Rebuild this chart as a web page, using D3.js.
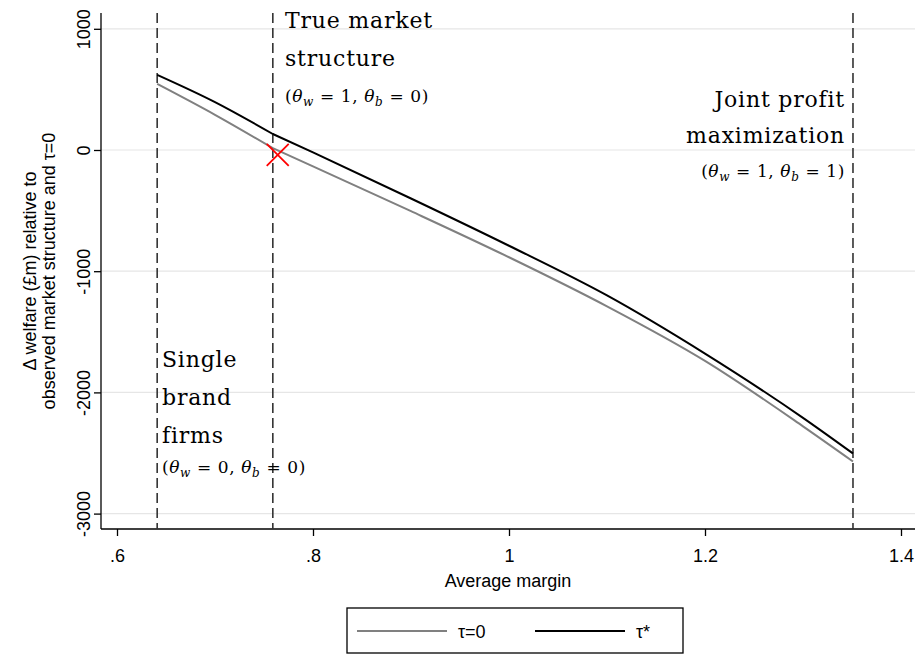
<!DOCTYPE html>
<html><head><meta charset="utf-8">
<script src="https://cdn.jsdelivr.net/npm/d3@7"></script>
<style>body{margin:0;background:#fff}</style></head>
<body><svg id="c" width="920" height="654"></svg>
<script>
const xsLeft = [0.641,0.7,0.759];
const starLeft = [620,395,132];
const zeroLeft = [545,290,15];
const xsRight = [0.759,0.8,0.9,1.0,1.1,1.2,1.3,1.351];
const starRight = [132,-20,-400,-790,-1200,-1680,-2210,-2504];
const zeroRight = [15,-135,-505,-885,-1290,-1740,-2280,-2570];
const xTicks = [0.6,0.8,1,1.2,1.4];
const xTickLabels = [".6",".8","1","1.2","1.4"];
const yTicks = [1000,0,-1000,-2000,-3000];
const vlines = [0.641,0.759,1.351];
const marker = {x:0.764,y:-40};

const svg = d3.select("#c");
const x = d3.scaleLinear().domain([0.6,1.4]).range([117,901]);
const y = d3.scaleLinear().domain([0,-1000]).range([150,271.2]);
const L=101,R=915,T=13,B=529;
const sans="Liberation Sans, Arial, sans-serif";
yTicks.forEach(t=>svg.append("line").attr("x1",L).attr("x2",R).attr("y1",y(t)).attr("y2",y(t)).attr("stroke","#e6e6e6").attr("stroke-width",1.2));
const xa = svg.append("g").attr("transform",`translate(0,${B})`).call(d3.axisBottom(x).tickValues(xTicks).tickFormat((d,i)=>xTickLabels[i]).tickSize(7).tickSizeOuter(0));
xa.select(".domain").attr("d",`M${L},0H${R}`);
xa.selectAll(".tick text").attr("dy",null).attr("y",33);
const ya = svg.append("g").attr("transform",`translate(${L},0)`).call(d3.axisLeft(y).tickValues(yTicks).tickFormat(d=>String(d).replace("−","-")).tickSize(7).tickSizeOuter(0));
ya.select(".domain").attr("d",`M0,${T}V${B}`);
ya.selectAll(".tick text").attr("text-anchor","middle").attr("x",null).attr("dy",null).attr("transform","translate(-11,0) rotate(-90)");
[xa,ya].forEach(a=>{a.attr("font-family",sans).attr("font-size",18);a.selectAll("text").style("font-family",sans).style("font-size","18px").attr("fill","#000");a.selectAll("line,path").attr("stroke","#000").attr("stroke-width",1.3);});
svg.append("text").attr("x",508).attr("y",587).attr("text-anchor","middle").style("font-family",sans).style("font-size","18px").text("Average margin");
svg.append("text").attr("transform","translate(36,271) rotate(-90)").attr("text-anchor","middle").style("font-family",sans).style("font-size","18px").text("Δ welfare (£m) relative to");
svg.append("text").attr("transform","translate(55,271) rotate(-90)").attr("text-anchor","middle").style("font-family",sans).style("font-size","18px").text("observed market structure and τ=0");
vlines.forEach(v=>svg.append("line").attr("x1",x(v)).attr("x2",x(v)).attr("y1",T).attr("y2",B).attr("stroke","#333").attr("stroke-width",1.6).attr("stroke-dasharray","10,5"));
const line = d3.line().x(d=>x(d[0])).y(d=>y(d[1])).curve(d3.curveMonotoneX);
function draw(xsArr,vals,col){svg.append("path").attr("d",line(xsArr.map((v,i)=>[v,vals[i]]))).attr("fill","none").attr("stroke",col).attr("stroke-width",2).attr("stroke-linejoin","round");}
draw(xsLeft,zeroLeft,"#808080");draw(xsRight,zeroRight,"#808080");
draw(xsLeft,starLeft,"#000");draw(xsRight,starRight,"#000");
const mx=x(marker.x),my=y(marker.y),s=11;
svg.append("path").attr("d",`M${mx-s},${my-s}L${mx+s},${my+s}M${mx-s},${my+s}L${mx+s},${my-s}`).attr("stroke","#ff0000").attr("stroke-width",1.8);
const serif="DejaVu Serif, Liberation Serif, serif";
function txt(xp,yp,s,anchor){svg.append("text").attr("x",xp).attr("y",yp).style("font-family",serif).style("font-size","22px").style("letter-spacing","0.8px").attr("text-anchor",anchor||"start").text(s);}
function theta(xp,yp,w,b,anchor){
  const t=svg.append("text").attr("x",xp).attr("y",yp).style("font-family",serif).style("font-size","17px").style("letter-spacing","0.6px").attr("text-anchor",anchor||"start");
  t.append("tspan").text("(");
  t.append("tspan").style("font-style","italic").text("θ");
  t.append("tspan").attr("dy",4).style("font-size","12px").style("font-style","italic").text("w");
  t.append("tspan").attr("dy",-4).text(" = "+w+",  ");
  t.append("tspan").style("font-style","italic").text("θ");
  t.append("tspan").attr("dy",4).style("font-size","12px").style("font-style","italic").text("b");
  t.append("tspan").attr("dy",-4).text(" = "+b+")");
}
txt(285,28,"True market");txt(285,66,"structure");theta(285,102,1,0);
txt(845,107,"Joint profit","end");txt(845,143,"maximization","end");theta(845,177,1,1,"end");
txt(162,367,"Single");txt(162,405,"brand");txt(162,443,"firms");theta(162,473,0,0);
svg.append("rect").attr("x",347).attr("y",608).attr("width",336).attr("height",45).attr("fill","#fff").attr("stroke","#000").attr("stroke-width",1.3);
svg.append("line").attr("x1",357).attr("x2",447).attr("y1",631).attr("y2",631).attr("stroke","#808080").attr("stroke-width",2);
svg.append("text").attr("x",458).attr("y",638).style("font-family",sans).style("font-size","18px").text("τ=0");
svg.append("line").attr("x1",535).attr("x2",625).attr("y1",631).attr("y2",631).attr("stroke","#000").attr("stroke-width",2);
svg.append("text").attr("x",636).attr("y",638).style("font-family",sans).style("font-size","18px").text("τ*");
</script></body></html>
